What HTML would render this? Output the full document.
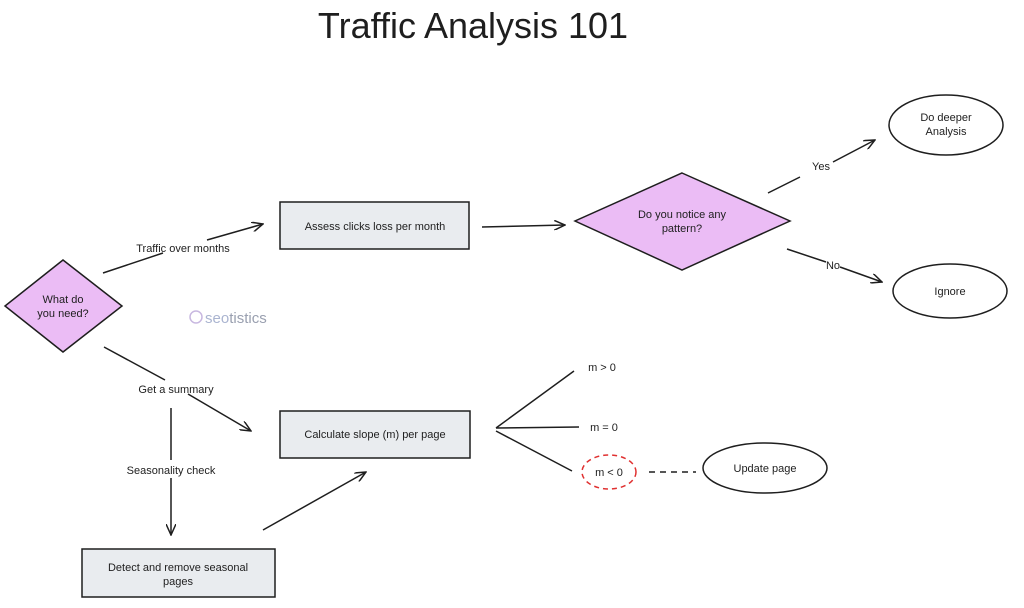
<!DOCTYPE html>
<html><head><meta charset="utf-8"><style>
body{margin:0;background:#fff;width:1024px;height:603px;overflow:hidden}
svg text{font-family:"Liberation Sans",sans-serif;fill:#1e1e1e}
</style></head><body>
<svg width="1024" height="603" viewBox="0 0 1024 603" xmlns="http://www.w3.org/2000/svg">
<defs><marker id="a" markerWidth="12" markerHeight="10" refX="11" refY="5" orient="auto" markerUnits="userSpaceOnUse"><path d="M0,0 L11,5 L0,10" fill="none" stroke="#1e1e1e" stroke-width="1.5"/></marker></defs>
<text x="473" y="38" font-size="36" text-anchor="middle" font-family="Liberation Sans">Traffic Analysis 101</text>
<g stroke="#1e1e1e" stroke-width="1.5" font-size="11">
<polygon points="63,260 122,306 63,352 5,306" fill="#ebbcf5"/>
<rect x="280" y="202" width="189" height="47" fill="#e9ecef"/>
<polygon points="682,173 790,221 682,270 575,221" fill="#ebbcf5"/>
<ellipse cx="946" cy="125" rx="57" ry="30" fill="#fff"/>
<ellipse cx="950" cy="291" rx="57" ry="27" fill="#fff"/>
<rect x="280" y="411" width="190" height="47" fill="#e9ecef"/>
<rect x="82" y="549" width="193" height="48" fill="#e9ecef"/>
<ellipse cx="765" cy="468" rx="62" ry="25" fill="#fff"/>
<ellipse cx="609" cy="472" rx="27" ry="17" fill="none" stroke="#e03131" stroke-dasharray="5,4"/>
<path d="M103,273 L163,253 M207,240 L263,224" fill="none" marker-end="url(#a)"/>
<path d="M482,227 L565,225" fill="none" marker-end="url(#a)"/>
<path d="M768,193 L800,177 M833,162 L875,140" fill="none" marker-end="url(#a)"/>
<path d="M787,249 L826,262 M840,267 L882,282" fill="none" marker-end="url(#a)"/>
<path d="M104,347 L165,380 M188,394 L251,431" fill="none" marker-end="url(#a)"/>
<path d="M171,408 L171,460 M171,478 L171,535" fill="none" marker-end="url(#a)"/>
<path d="M263,530 L366,472" fill="none" marker-end="url(#a)"/>
<path d="M496,428 L574,371 M496,428 L579,427 M496,431 L572,471" fill="none"/>
<path d="M649,472 L696,472" fill="none" stroke-dasharray="6,5"/>
</g>
<g font-size="11" text-anchor="middle">
<text x="63" y="303">What do</text><text x="63" y="317">you need?</text>
<text x="375" y="230">Assess clicks loss per month</text>
<text x="682" y="218">Do you notice any</text><text x="682" y="232">pattern?</text>
<text x="946" y="121">Do deeper</text><text x="946" y="135">Analysis</text>
<text x="950" y="295">Ignore</text>
<text x="375" y="438">Calculate slope (m) per page</text>
<text x="178" y="571">Detect and remove seasonal</text><text x="178" y="585">pages</text>
<text x="765" y="472">Update page</text>
<text x="183" y="252">Traffic over months</text>
<text x="176" y="393">Get a summary</text>
<text x="171" y="474">Seasonality check</text>
<text x="821" y="170">Yes</text>
<text x="833" y="269">No</text>
<text x="602" y="371">m &gt; 0</text>
<text x="604" y="431">m = 0</text>
<text x="609" y="476">m &lt; 0</text>
</g>
<text x="205" y="323" font-size="15" fill="#aab4d0" style="fill:#aab4d0">seo<tspan style="fill:#9aa0b0">tistics</tspan></text>
<circle cx="196" cy="317" r="6" fill="none" stroke="#c8b8e0" stroke-width="1.5"/>
</svg>
</body></html>
